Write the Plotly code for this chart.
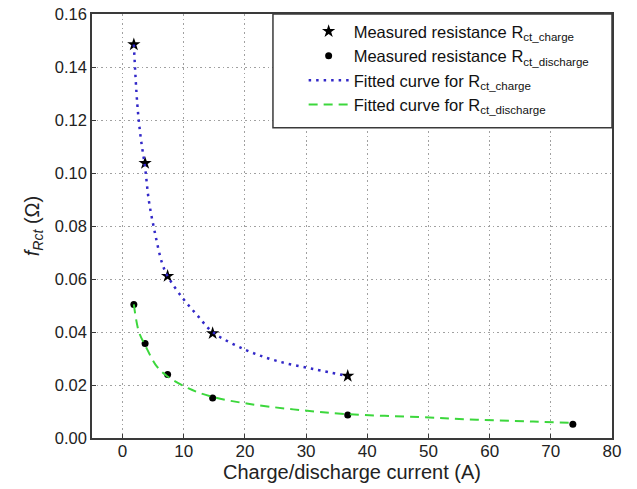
import plotly.graph_objects as go

# Measured data
current_charge = [1.84, 3.68, 7.36, 14.72, 36.8]
r_charge = [0.1485, 0.1037, 0.0611, 0.0395, 0.0234]
current_discharge = [1.84, 3.68, 7.36, 14.72, 36.8, 73.6]
r_discharge = [0.0504, 0.0357, 0.0240, 0.0151, 0.0087, 0.0052]

# Fitted curves
fit_charge_x = [1.84, 2.39, 2.94, 3.68, 4.30, 5.28, 6.47, 7.36, 9.85, 12.18, 14.72, 20.17, 25.2, 31.2, 36.8]
fit_charge_y = [0.1485, 0.1264, 0.1138, 0.1020, 0.0895, 0.0775, 0.0659, 0.0611, 0.0527, 0.0464, 0.0400, 0.0332, 0.0291, 0.0260, 0.0234]
fit_dis_x = [1.84, 2.66, 3.68, 5.66, 7.36, 10.8, 14.72, 20.3, 27.9, 36.8, 48.6, 57.9, 67.1, 73.6]
fit_dis_y = [0.0504, 0.0401, 0.0350, 0.0268, 0.0232, 0.0187, 0.0155, 0.0130, 0.0108, 0.0090, 0.0079, 0.0069, 0.0062, 0.0057]

x_ticks = [0, 10, 20, 30, 40, 50, 60, 70, 80]
y_ticks = [0.00, 0.02, 0.04, 0.06, 0.08, 0.10, 0.12, 0.14, 0.16]

font_family = "Liberation Sans, Arial, sans-serif"
frame_color = "#3a3a3a"
grid_color = "#a0a0a0"

fig = go.Figure()
fig.add_trace(go.Scatter(
    x=current_charge, y=r_charge, mode="markers",
    marker=dict(symbol="star", size=10, color="black"),
    name="Measured resistance R<sub>ct_charge</sub>"))
fig.add_trace(go.Scatter(
    x=current_discharge, y=r_discharge, mode="markers",
    marker=dict(symbol="circle", size=7, color="black"),
    name="Measured resistance R<sub>ct_discharge</sub>"))
fig.add_trace(go.Scatter(
    x=fit_charge_x, y=fit_charge_y, mode="lines",
    line=dict(color="rgb(50,40,200)", dash="2.5px,5px", width=2.5, shape="spline"),
    name="Fitted curve for R<sub>ct_charge</sub>"))
fig.add_trace(go.Scatter(
    x=fit_dis_x, y=fit_dis_y, mode="lines",
    line=dict(color="rgb(60,215,60)", dash="9px,6px", width=2, shape="spline"),
    name="Fitted curve for R<sub>ct_discharge</sub>"))

# legend frame (white box with dark border)
fig.add_shape(type="rect", xref="paper", yref="paper",
              x0=0.348, x1=1.0, y0=0.732, y1=1.0,
              fillcolor="white", line=dict(color=frame_color, width=1.5),
              layer="above")

fig.update_layout(
    width=637, height=489,
    margin=dict(l=92, r=25, t=14, b=51, autoexpand=False),
    plot_bgcolor="white", paper_bgcolor="white",
    font=dict(family=font_family, size=16, color="#222"),
    legend=dict(x=0.407, y=1.0, xanchor="left", yanchor="top",
                bgcolor="rgba(0,0,0,0)", borderwidth=0,
                font=dict(size=16.5, color="#111"), tracegroupgap=0,
                itemwidth=40),
    showlegend=True,
)
fig.update_xaxes(
    range=[-5, 80], tickvals=x_ticks, ticktext=[str(v) for v in x_ticks],
    showgrid=True, gridcolor=grid_color, griddash="1.5px,3px", gridwidth=1,
    showline=True, linecolor=frame_color, linewidth=1.6, mirror=True,
    ticks="inside", ticklen=4, tickcolor=frame_color, automargin=False,
    zeroline=False, ticklabelstandoff=-3, ticklabeloverflow="allow",
    title=dict(text="Charge/discharge current (A)", font=dict(size=20), standoff=0),
    tickfont=dict(size=17))
fig.update_yaxes(
    range=[0, 0.16], tickvals=y_ticks, ticktext=["%.2f" % v for v in y_ticks],
    showgrid=True, gridcolor=grid_color, griddash="1.5px,3px", gridwidth=1,
    showline=True, linecolor=frame_color, linewidth=1.6, mirror=True,
    ticks="inside", ticklen=4, tickcolor=frame_color, automargin=False,
    zeroline=False, ticklabeloverflow="allow",
    title=dict(text="<i>f<sub>Rct</sub></i> (Ω)", font=dict(size=20), standoff=10),
    tickfont=dict(size=16.5))

fig.write_html("out.html", config={"displayModeBar": False},
               post_script="document.body.style.margin='0';")
